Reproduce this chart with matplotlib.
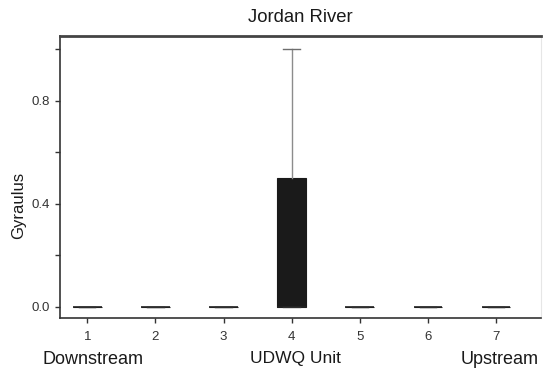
import matplotlib
matplotlib.use("Agg")
import matplotlib.pyplot as plt
import matplotlib.transforms as mtransforms

plt.rcParams['font.family'] = ['Liberation Sans', 'DejaVu Sans']

# Gyraulus counts per UDWQ unit (box statistics)
units = [1, 2, 3, 4, 5, 6, 7]
q1 = [0.0, 0.0, 0.0, 0.0, 0.0, 0.0, 0.0]
med = [0.0, 0.0, 0.0, 0.0, 0.0, 0.0, 0.0]
q3 = [0.0, 0.0, 0.0, 0.5, 0.0, 0.0, 0.0]
whislo = [0.0, 0.0, 0.0, 0.0, 0.0, 0.0, 0.0]
whishi = [0.0, 0.0, 0.0, 1.0, 0.0, 0.0, 0.0]
ytick_values = [0.0, 0.2, 0.4, 0.6, 0.8, 1.0]
ytick_labels = ["0.0", "", "0.4", "", "0.8", ""]

stats = [
    dict(q1=a, med=m, q3=b, whislo=lo, whishi=hi, fliers=[], label=str(u))
    for u, a, m, b, lo, hi in zip(units, q1, med, q3, whislo, whishi)
]

fig = plt.figure(figsize=(5.44, 3.75), dpi=100)
ax = fig.add_axes([60 / 544, 57 / 375, 481 / 544, 282 / 375])

ax.bxp(
    stats, positions=units, widths=0.42, patch_artist=True, showfliers=False,
    boxprops=dict(facecolor="#1a1a1a", edgecolor="#1a1a1a", linewidth=0.8),
    medianprops=dict(color="#222222", linewidth=1.2),
    whiskerprops=dict(color="#8c8c8c", linewidth=1.0),
    capprops=dict(color="#6e6e6e", linewidth=1.0),
    capwidths=0.24,
)

ax.set_xlim(0.6, 7.66)
ax.set_ylim(-0.043, 1.052)
ax.set_xticks(units)
ax.set_xticklabels([str(u) for u in units])
ax.set_yticks(ytick_values)
ax.set_yticklabels(ytick_labels)

ax.tick_params(axis="both", direction="out", length=3.5, width=1.0,
               color="#333333", labelsize=9.5, labelcolor="#333333")
ax.tick_params(axis="y", pad=3.5)
ax.tick_params(axis="x", pad=6)

for side in ("left", "bottom"):
    ax.spines[side].set_color("#333333")
    ax.spines[side].set_linewidth(1.2)
ax.spines["top"].set_color("#444444")
ax.spines["top"].set_linewidth(2.0)
ax.spines["right"].set_color("#e6e6e6")
ax.spines["right"].set_linewidth(0.8)

ax.set_title("Jordan River", fontsize=13.3, color="#1a1a1a",
             y=(318 - 18) / 282, pad=0, va="center")
ax.set_ylabel("Gyraulus", fontsize=12, color="#1a1a1a", va="center")
ax.yaxis.set_label_coords(-(60 - 19) / 481, (318 - 205) / 282)

# x-axis captions below the tick labels
blend = mtransforms.blended_transform_factory(ax.transData, ax.transAxes)
caption_y = -(359 - 318) / 282
ax.set_xlabel("UDWQ Unit", fontsize=12.5, color="#1a1a1a", va="center")
ax.xaxis.set_label_coords(4.06, caption_y, transform=blend)
ax.text(1.08, caption_y, "Downstream", transform=blend, ha="center", va="center",
        fontsize=13, color="#1a1a1a")
ax.text(7.05, caption_y, "Upstream", transform=blend, ha="center", va="center",
        fontsize=13, color="#1a1a1a")

fig.savefig("out.png", dpi=100, facecolor="white")
